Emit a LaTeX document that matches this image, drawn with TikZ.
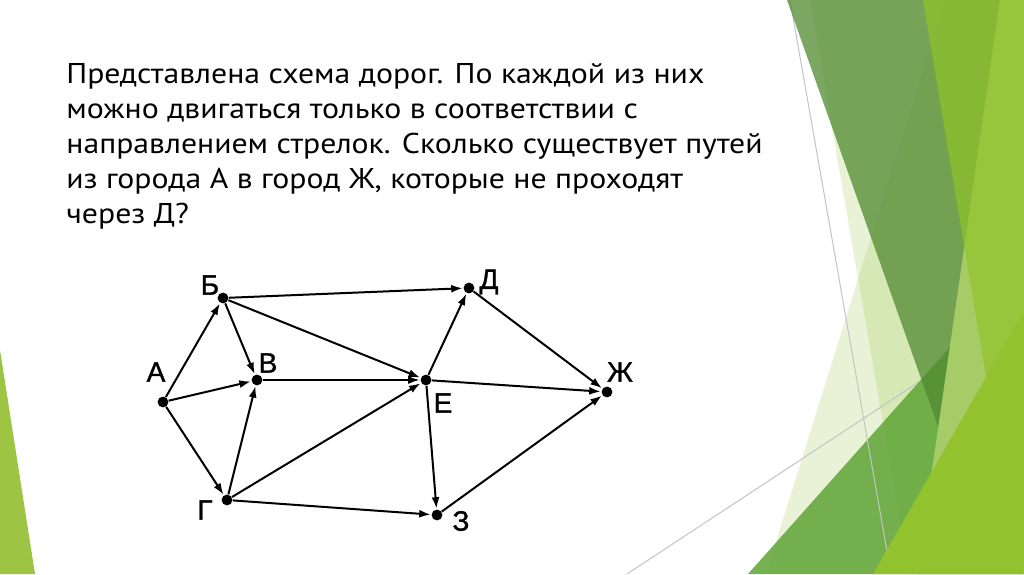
\documentclass[tikz,border=0pt]{standalone}
\usepackage{fontspec}
\setmainfont{PT Sans}[FakeStretch=1.11]
\newfontfamily\labelfont{Liberation Sans}[FakeBold=1.2]
\usetikzlibrary{arrows.meta}
\definecolor{facet_pale}{HTML}{93C13A}
\definecolor{facet_mid}{HTML}{5FA535}
\definecolor{facet_dark}{HTML}{4F8A30}
\definecolor{facet_lime}{HTML}{A6CC68}
\definecolor{facet_olive}{RGB}{145,195,41}
\definecolor{facet_yellow}{HTML}{93C22F}
\definecolor{facet_left}{HTML}{9DC443}
\definecolor{facet_rule}{HTML}{C4C4C4}
\tikzset{
    city_node/.style = {circle, fill=black, draw=none, inner sep=0pt, minimum size=5.4pt},
    city_label/.style = {inner sep=0pt, font=\labelfont\fontsize{14}{15}\selectfont},
    road/.style = {-{Latex[length=5.8pt,width=4pt]}, line width=1pt, shorten >=0.2pt},
    task_line/.style = {anchor=base west, inner sep=0pt, font=\fontsize{14.3}{17}\selectfont},
    facet_rule_line/.style = {draw=facet_rule, line width=0.5pt}
}
\begin{document}
\begin{tikzpicture}[x=0.5pt, y=-0.5pt]
    \useasboundingbox (0,0) rectangle (1024,574);
    \fill[white] (0,0) rectangle (1024,574);

    % green facets on the right
    \fill[facet_pale, opacity=0.2] (810,0) -- (1024,0) -- (1024,574) -- (909,574) -- cycle;
    \fill[facet_pale, opacity=0.2] (945,0) -- (1024,0) -- (1024,574) -- (766,574) -- cycle;
    \draw[facet_rule_line] (627,574) -- (960,355);
    \fill[facet_mid, opacity=0.85] (748,574) -- (1024,264) -- (1024,574) -- cycle;
    \draw[facet_rule_line] (790,0) -- (891,574);
    \fill[facet_dark, opacity=0.75] (787,0) -- (1002,0) -- (940,432) -- cycle;
    \fill[facet_lime] (1000,0) -- (1024,0) -- (1024,574) -- (917,574) -- cycle;
    \fill[facet_olive, opacity=0.7] (923,0) -- (1024,0) -- (1024,574) -- (1019,574) -- cycle;
    \fill[facet_yellow] (873,574) -- (1024,311) -- (1024,574) -- cycle;
    % green facet on the left
    \fill[facet_left] (0,350) -- (35,574) -- (0,574) -- cycle;

    % task text
    \node[task_line] (line1) at (66,83) {Представлена схема дорог. По каждой из них};
    \node[task_line] (line2) at (66,118) {можно двигаться только в соответствии с};
    \node[task_line] (line3) at (66,153) {направлением стрелок. Сколько существует путей};
    \node[task_line] (line4) at (66,188) {из города А в город Ж, которые не проходят};
    \node[task_line] (line5) at (66,223) {через Д?};

    % cities
    \node[city_node] (A) at (163,402) {};
    \node[city_node] (B) at (223,298) {};
    \node[city_node] (V) at (257,380) {};
    \node[city_node] (G) at (227,500) {};
    \node[city_node] (E) at (426,380) {};
    \node[city_node] (D) at (469,288) {};
    \node[city_node] (Zh) at (607,392) {};
    \node[city_node] (Z) at (437,515) {};

    \node[city_label] (lA) at (156,372) {А};
    \node[city_label] (lB) at (210,285) {Б};
    \node[city_label] (lV) at (268,363) {В};
    \node[city_label] (lG) at (205,510) {Г};
    \node[city_label] (lE) at (443,403) {Е};
    \node[city_label] (lD) at (489,282) {Д};
    \node[city_label] (lZh) at (620,372) {Ж};
    \node[city_label] (lZ) at (461,521) {З};

    % roads
    \draw[road] (A) -- (B);
    \draw[road] (A) -- (V);
    \draw[road] (A) -- (G);
    \draw[road] (B) -- (V);
    \draw[road] (B) -- (E);
    \draw[road] (B) -- (D);
    \draw[road] (V) -- (E);
    \draw[road] (G) -- (V);
    \draw[road] (G) -- (E);
    \draw[road] (G) -- (Z);
    \draw[road] (E) -- (D);
    \draw[road] (E) -- (Zh);
    \draw[road] (E) -- (Z);
    \draw[road] (D) -- (Zh);
    \draw[road] (Z) -- (Zh);
\end{tikzpicture}
\end{document}
